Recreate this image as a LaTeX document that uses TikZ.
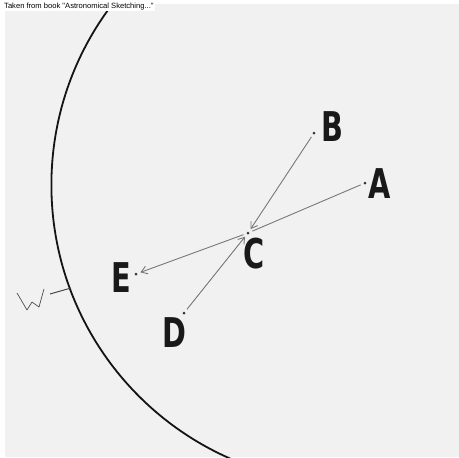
\documentclass[tikz,border=0pt]{standalone}
\usepackage{fontspec}
\usepackage{graphicx}
\usetikzlibrary{arrows.meta}
\newfontfamily\lblfont{DejaVu Sans Condensed}
\newfontfamily\capfont{Liberation Sans}
\definecolor{paper}{HTML}{F1F1F1}
\definecolor{pen}{HTML}{787878}
\newcommand{\starlbl}[1]{\scalebox{0.78}[1]{#1}}

\begin{document}
\begin{tikzpicture}[x=1pt,y=-1pt,
  star/.style={circle,fill=black!80,inner sep=0pt,minimum size=3pt},
  lbl/.style={font=\lblfont\bfseries\fontsize{41}{41}\selectfont,inner sep=0pt,text=black!90},
  trail/.style={draw=pen,line width=0.9pt,shorten >=3pt,shorten <=3pt},
  mv/.style={trail,-{Straight Barb[length=6pt,width=8pt]}}]
  \useasboundingbox (0,0) rectangle (459,458);
  \fill[white] (0,0) rectangle (459,458);
  \fill[paper] (5,4) rectangle (459,457);
  % limb of the moon
  \begin{scope}
    \clip (5,4) rectangle (459,457);
    \draw[line width=1.8pt,black!92] (350,185) circle [radius=298.6pt];
  \end{scope}
  \node[anchor=north west,fill=white,inner xsep=1pt,inner ysep=1.2pt,font=\capfont\fontsize{7.6}{8}\selectfont] (src) at (3,1.5) {Taken from book "Astronomical Sketching..."};
  % stars
  \node[star] (a) at (365,183){};
  \node[star] (b) at (314,133){};
  \node[star] (c) at (248,233){};
  \node[star] (d) at (184,313){};
  \node[star] (e) at (136,274){};
  \node[lbl] (la) at (380,184){\starlbl{A}};
  \node[lbl] (lb) at (332,127){\starlbl{B}};
  \node[lbl] (lc) at (254,254){\starlbl{C}};
  \node[lbl] (ld) at (174,333){\starlbl{D}};
  \node[lbl] (le) at (121,278){\starlbl{E}};
  % motions
  \draw[mv] (b) -- (c);
  \draw[mv] (d) -- (c);
  \draw[trail] (a) -- (c);
  \draw[mv] (c) -- (e);
  % west mark
  \coordinate (limbw) at (71,288);
  \draw[black!75,line width=0.9pt] (50,294) -- (limbw);
  \draw[black!70,line width=0.7pt,line join=round] (17,293) -- (27,310) -- (32,302) -- (39,307) -- (44,289);
\end{tikzpicture}
\end{document}
